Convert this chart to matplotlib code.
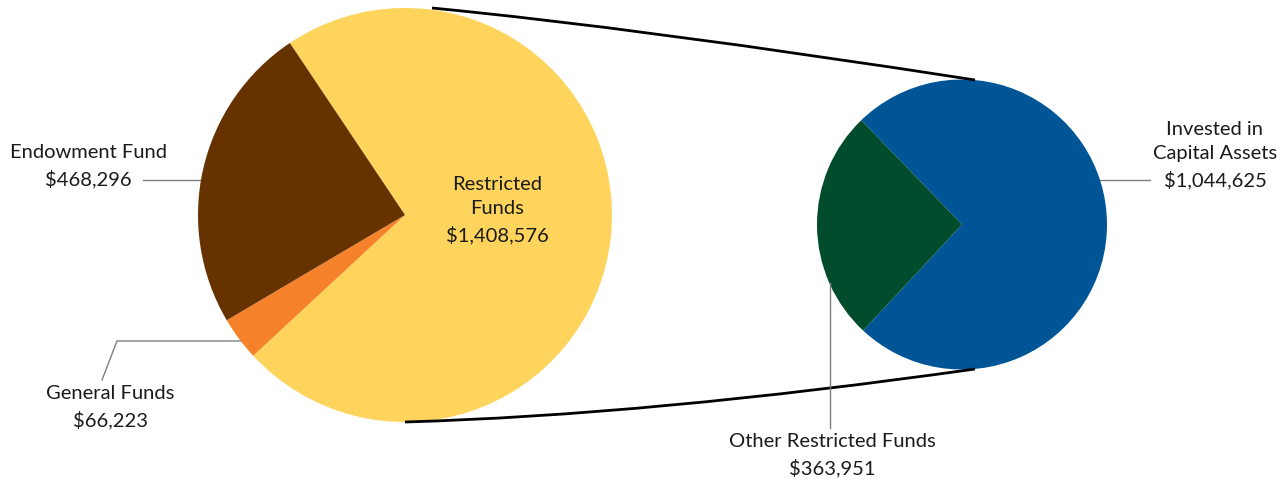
#!/usr/bin/env python3

import matplotlib
matplotlib.use('Agg')
import matplotlib.pyplot as plt
from matplotlib.path import Path
from matplotlib.patches import PathPatch

# Net assets breakdown
main_labels = ['Restricted\nFunds', 'General Funds', 'Endowment Fund']
main_values = [1408576, 66223, 468296]
main_colors = ['#FED45C', '#F5822A', '#663300']

sub_labels = ['Invested in\nCapital Assets', 'Other Restricted Funds']
sub_values = [1044625, 363951]
sub_colors = ['#005596', '#004C2D']

W, H = 1283, 480


def Y(y_px):
    # pixel rows from top -> data y
    return H - y_px


fig = plt.figure(figsize=(W / 100, H / 100), dpi=100)
ax = fig.add_axes([0, 0, 1, 1])
plt.rcParams['font.family'] = ['Lato', 'DejaVu Sans']

big_c, big_r = (405, Y(215)), 207
small_c, small_r = (962, Y(224.5)), 145

ax.pie(main_values, colors=main_colors, startangle=123.8, counterclock=False,
       center=big_c, radius=big_r, wedgeprops={'linewidth': 0})
ax.pie(sub_values, colors=sub_colors, startangle=134, counterclock=False,
       center=small_c, radius=small_r, wedgeprops={'linewidth': 0})

# connector curves between the two pies
for (p0, p1, p2) in [((432, 8), (640, 28), (975, 80)),
                     ((405, 422), (650, 415), (975, 369))]:
    verts = [(p0[0], Y(p0[1])), (p1[0], Y(p1[1])), (p2[0], Y(p2[1]))]
    path = Path(verts, [Path.MOVETO, Path.CURVE3, Path.CURVE3])
    ax.add_patch(PathPatch(path, facecolor='none', edgecolor='black', lw=2, zorder=5))

# leader lines
lead = dict(color='#7f7f7f', lw=1, zorder=0.5)
ax.plot([143, 203], [Y(180), Y(180)], **lead)
ax.plot([102, 117, 242], [Y(380), Y(341), Y(341)], **lead)
ax.plot([1098, 1150], [Y(180), Y(180)], **lead)
ax.plot([830, 830], [Y(283), Y(428)], color='#7f7f7f', lw=1, zorder=6)

txt = dict(fontsize=14.5, ha='center', va='center', color='#1a1a1a', linespacing=1.55)
ax.text(88, Y(166.5), f'{main_labels[2]}\n${main_values[2]:,}', **txt)
ax.text(110, Y(407.5), f'{main_labels[1]}\n${main_values[1]:,}', **txt)
ax.text(497, Y(210), f'{main_labels[0]}\n${main_values[0]:,}', **txt)
ax.text(1215, Y(155), f'{sub_labels[0]}\n${sub_values[0]:,}', **txt)
ax.text(832, Y(455.5), f'{sub_labels[1]}\n${sub_values[1]:,}', **txt)

ax.set_xlim(0, W)
ax.set_ylim(0, H)
ax.set_aspect('equal')
ax.axis('off')

fig.savefig('out.png', dpi=100)
